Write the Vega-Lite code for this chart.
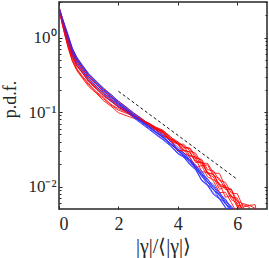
{
"$schema":"https://vega.github.io/schema/vega-lite/v6.json",
"width":208,"height":207,
"autosize":{"type":"none"},
"padding":{"left":59,"top":2,"right":2,"bottom":49},
"config":{"view":{"stroke":"#262626","strokeWidth":1.5},"font":"Liberation Serif"},
"datasets":{
"dashed":[{"x":2,"y":0.19},{"x":6,"y":0.0125}],
"curves":[
{"id":"r1","g":"r","x":0,"y":2.45},{"id":"r1","g":"r","x":0.1,"y":1.57},{"id":"r1","g":"r","x":0.2,"y":1.07},{"id":"r1","g":"r","x":0.3,"y":0.74},{"id":"r1","g":"r","x":0.45,"y":0.48},{"id":"r1","g":"r","x":0.6,"y":0.36},{"id":"r1","g":"r","x":0.8,"y":0.28},{"id":"r1","g":"r","x":1,"y":0.22},{"id":"r1","g":"r","x":1.25,"y":0.18},{"id":"r1","g":"r","x":1.5,"y":0.142},{"id":"r1","g":"r","x":1.75,"y":0.12},{"id":"r1","g":"r","x":2,"y":0.098},{"id":"r1","g":"r","x":2.25,"y":0.09},{"id":"r1","g":"r","x":2.5,"y":0.083},{"id":"r1","g":"r","x":2.75,"y":0.076},{"id":"r1","g":"r","x":3,"y":0.068},{"id":"r1","g":"r","x":3.25,"y":0.06},{"id":"r1","g":"r","x":3.5,"y":0.054},{"id":"r1","g":"r","x":3.75,"y":0.044},{"id":"r1","g":"r","x":4,"y":0.038},{"id":"r1","g":"r","x":4.2,"y":0.031},{"id":"r1","g":"r","x":4.4,"y":0.029},{"id":"r1","g":"r","x":4.6,"y":0.021},{"id":"r1","g":"r","x":4.8,"y":0.021},{"id":"r1","g":"r","x":5,"y":0.0149},{"id":"r1","g":"r","x":5.2,"y":0.0134},{"id":"r1","g":"r","x":5.4,"y":0.0092},{"id":"r1","g":"r","x":5.6,"y":0.0099},{"id":"r1","g":"r","x":5.8,"y":0.0067},{"id":"r1","g":"r","x":6,"y":0.006},{"id":"r1","g":"r","x":6.2,"y":0.0037},
{"id":"b1","g":"b","x":0,"y":2.5},{"id":"b1","g":"b","x":0.1,"y":1.81},{"id":"b1","g":"b","x":0.2,"y":1.34},{"id":"b1","g":"b","x":0.3,"y":1.0},{"id":"b1","g":"b","x":0.45,"y":0.65},{"id":"b1","g":"b","x":0.6,"y":0.49},{"id":"b1","g":"b","x":0.8,"y":0.378},{"id":"b1","g":"b","x":1,"y":0.297},{"id":"b1","g":"b","x":1.25,"y":0.234},{"id":"b1","g":"b","x":1.5,"y":0.192},{"id":"b1","g":"b","x":1.75,"y":0.157},{"id":"b1","g":"b","x":2,"y":0.129},{"id":"b1","g":"b","x":2.25,"y":0.109},{"id":"b1","g":"b","x":2.5,"y":0.091},{"id":"b1","g":"b","x":2.75,"y":0.076},{"id":"b1","g":"b","x":3,"y":0.0637},{"id":"b1","g":"b","x":3.25,"y":0.0534},{"id":"b1","g":"b","x":3.5,"y":0.0451},{"id":"b1","g":"b","x":3.75,"y":0.037},{"id":"b1","g":"b","x":4,"y":0.0307},{"id":"b1","g":"b","x":4.2,"y":0.0252},{"id":"b1","g":"b","x":4.4,"y":0.0221},{"id":"b1","g":"b","x":4.6,"y":0.0172},{"id":"b1","g":"b","x":4.8,"y":0.0141},{"id":"b1","g":"b","x":5,"y":0.0105},{"id":"b1","g":"b","x":5.2,"y":0.0092},{"id":"b1","g":"b","x":5.4,"y":0.0069},{"id":"b1","g":"b","x":5.6,"y":0.0061},{"id":"b1","g":"b","x":5.8,"y":0.0043},{"id":"b1","g":"b","x":6,"y":0.0038},{"id":"b1","g":"b","x":6.2,"y":0.0025},
{"id":"r2","g":"r","x":0,"y":2.5},{"id":"r2","g":"r","x":0.1,"y":1.62},{"id":"r2","g":"r","x":0.2,"y":1.11},{"id":"r2","g":"r","x":0.3,"y":0.8},{"id":"r2","g":"r","x":0.45,"y":0.52},{"id":"r2","g":"r","x":0.6,"y":0.38},{"id":"r2","g":"r","x":0.8,"y":0.3},{"id":"r2","g":"r","x":1,"y":0.24},{"id":"r2","g":"r","x":1.25,"y":0.188},{"id":"r2","g":"r","x":1.5,"y":0.157},{"id":"r2","g":"r","x":1.75,"y":0.127},{"id":"r2","g":"r","x":2,"y":0.111},{"id":"r2","g":"r","x":2.25,"y":0.1},{"id":"r2","g":"r","x":2.5,"y":0.087},{"id":"r2","g":"r","x":2.75,"y":0.079},{"id":"r2","g":"r","x":3,"y":0.072},{"id":"r2","g":"r","x":3.25,"y":0.063},{"id":"r2","g":"r","x":3.5,"y":0.057},{"id":"r2","g":"r","x":3.75,"y":0.046},{"id":"r2","g":"r","x":4,"y":0.04},{"id":"r2","g":"r","x":4.2,"y":0.034},{"id":"r2","g":"r","x":4.4,"y":0.033},{"id":"r2","g":"r","x":4.6,"y":0.026},{"id":"r2","g":"r","x":4.8,"y":0.019},{"id":"r2","g":"r","x":5,"y":0.0196},{"id":"r2","g":"r","x":5.2,"y":0.014},{"id":"r2","g":"r","x":5.4,"y":0.0129},{"id":"r2","g":"r","x":5.6,"y":0.0091},{"id":"r2","g":"r","x":5.8,"y":0.0092},{"id":"r2","g":"r","x":6,"y":0.0055},{"id":"r2","g":"r","x":6.2,"y":0.0057},{"id":"r2","g":"r","x":6.4,"y":0.0053},{"id":"r2","g":"r","x":6.6,"y":0.0024},
{"id":"b2","g":"b","x":0,"y":2.53},{"id":"b2","g":"b","x":0.1,"y":1.86},{"id":"b2","g":"b","x":0.2,"y":1.4},{"id":"b2","g":"b","x":0.3,"y":1.06},{"id":"b2","g":"b","x":0.45,"y":0.69},{"id":"b2","g":"b","x":0.6,"y":0.52},{"id":"b2","g":"b","x":0.8,"y":0.406},{"id":"b2","g":"b","x":1,"y":0.316},{"id":"b2","g":"b","x":1.25,"y":0.25},{"id":"b2","g":"b","x":1.5,"y":0.201},{"id":"b2","g":"b","x":1.75,"y":0.166},{"id":"b2","g":"b","x":2,"y":0.135},{"id":"b2","g":"b","x":2.25,"y":0.114},{"id":"b2","g":"b","x":2.5,"y":0.095},{"id":"b2","g":"b","x":2.75,"y":0.0806},{"id":"b2","g":"b","x":3,"y":0.0683},{"id":"b2","g":"b","x":3.25,"y":0.0572},{"id":"b2","g":"b","x":3.5,"y":0.0489},{"id":"b2","g":"b","x":3.75,"y":0.041},{"id":"b2","g":"b","x":4,"y":0.0314},{"id":"b2","g":"b","x":4.2,"y":0.0286},{"id":"b2","g":"b","x":4.4,"y":0.0226},{"id":"b2","g":"b","x":4.6,"y":0.0196},{"id":"b2","g":"b","x":4.8,"y":0.0146},{"id":"b2","g":"b","x":5,"y":0.0128},{"id":"b2","g":"b","x":5.2,"y":0.0095},{"id":"b2","g":"b","x":5.4,"y":0.0085},{"id":"b2","g":"b","x":5.6,"y":0.0062},{"id":"b2","g":"b","x":5.8,"y":0.0055},{"id":"b2","g":"b","x":6,"y":0.004},{"id":"b2","g":"b","x":6.2,"y":0.0029},
{"id":"r3","g":"r","x":0,"y":2.6},{"id":"r3","g":"r","x":0.1,"y":1.88},{"id":"r3","g":"r","x":0.2,"y":1.41},{"id":"r3","g":"r","x":0.3,"y":1.08},{"id":"r3","g":"r","x":0.45,"y":0.71},{"id":"r3","g":"r","x":0.6,"y":0.54},{"id":"r3","g":"r","x":0.8,"y":0.41},{"id":"r3","g":"r","x":1,"y":0.32},{"id":"r3","g":"r","x":1.25,"y":0.258},{"id":"r3","g":"r","x":1.5,"y":0.205},{"id":"r3","g":"r","x":1.75,"y":0.172},{"id":"r3","g":"r","x":2,"y":0.14},{"id":"r3","g":"r","x":2.25,"y":0.118},{"id":"r3","g":"r","x":2.5,"y":0.098},{"id":"r3","g":"r","x":2.75,"y":0.084},{"id":"r3","g":"r","x":3,"y":0.07},{"id":"r3","g":"r","x":3.25,"y":0.061},{"id":"r3","g":"r","x":3.5,"y":0.053},{"id":"r3","g":"r","x":3.75,"y":0.041},{"id":"r3","g":"r","x":4,"y":0.037},{"id":"r3","g":"r","x":4.2,"y":0.028},{"id":"r3","g":"r","x":4.4,"y":0.026},{"id":"r3","g":"r","x":4.6,"y":0.024},{"id":"r3","g":"r","x":4.8,"y":0.0158},{"id":"r3","g":"r","x":5,"y":0.0155},{"id":"r3","g":"r","x":5.2,"y":0.0118},{"id":"r3","g":"r","x":5.4,"y":0.0083},{"id":"r3","g":"r","x":5.6,"y":0.0084},{"id":"r3","g":"r","x":5.8,"y":0.0061},{"id":"r3","g":"r","x":6,"y":0.0043},
{"id":"b3","g":"b","x":0,"y":2.5},{"id":"b3","g":"b","x":0.1,"y":1.74},{"id":"b3","g":"b","x":0.2,"y":1.27},{"id":"b3","g":"b","x":0.3,"y":0.93},{"id":"b3","g":"b","x":0.45,"y":0.61},{"id":"b3","g":"b","x":0.6,"y":0.45},{"id":"b3","g":"b","x":0.8,"y":0.354},{"id":"b3","g":"b","x":1,"y":0.275},{"id":"b3","g":"b","x":1.25,"y":0.219},{"id":"b3","g":"b","x":1.5,"y":0.176},{"id":"b3","g":"b","x":1.75,"y":0.145},{"id":"b3","g":"b","x":2,"y":0.118},{"id":"b3","g":"b","x":2.25,"y":0.102},{"id":"b3","g":"b","x":2.5,"y":0.0846},{"id":"b3","g":"b","x":2.75,"y":0.0707},{"id":"b3","g":"b","x":3,"y":0.0598},{"id":"b3","g":"b","x":3.25,"y":0.05},{"id":"b3","g":"b","x":3.5,"y":0.0423},{"id":"b3","g":"b","x":3.75,"y":0.0351},{"id":"b3","g":"b","x":4,"y":0.0275},{"id":"b3","g":"b","x":4.2,"y":0.0246},{"id":"b3","g":"b","x":4.4,"y":0.0197},{"id":"b3","g":"b","x":4.6,"y":0.0168},{"id":"b3","g":"b","x":4.8,"y":0.012},{"id":"b3","g":"b","x":5,"y":0.0103},{"id":"b3","g":"b","x":5.2,"y":0.0078},{"id":"b3","g":"b","x":5.4,"y":0.0068},{"id":"b3","g":"b","x":5.6,"y":0.0052},{"id":"b3","g":"b","x":5.8,"y":0.0043},{"id":"b3","g":"b","x":6,"y":0.003},
{"id":"r4","g":"r","x":0,"y":2.48},{"id":"r4","g":"r","x":0.1,"y":1.67},{"id":"r4","g":"r","x":0.2,"y":1.18},{"id":"r4","g":"r","x":0.3,"y":0.86},{"id":"r4","g":"r","x":0.45,"y":0.55},{"id":"r4","g":"r","x":0.6,"y":0.41},{"id":"r4","g":"r","x":0.8,"y":0.33},{"id":"r4","g":"r","x":1,"y":0.253},{"id":"r4","g":"r","x":1.25,"y":0.204},{"id":"r4","g":"r","x":1.5,"y":0.164},{"id":"r4","g":"r","x":1.75,"y":0.139},{"id":"r4","g":"r","x":2,"y":0.117},{"id":"r4","g":"r","x":2.25,"y":0.103},{"id":"r4","g":"r","x":2.5,"y":0.087},{"id":"r4","g":"r","x":2.75,"y":0.079},{"id":"r4","g":"r","x":3,"y":0.071},{"id":"r4","g":"r","x":3.25,"y":0.062},{"id":"r4","g":"r","x":3.5,"y":0.056},{"id":"r4","g":"r","x":3.75,"y":0.047},{"id":"r4","g":"r","x":4,"y":0.037},{"id":"r4","g":"r","x":4.2,"y":0.037},{"id":"r4","g":"r","x":4.4,"y":0.03},{"id":"r4","g":"r","x":4.6,"y":0.028},{"id":"r4","g":"r","x":4.8,"y":0.0206},{"id":"r4","g":"r","x":5,"y":0.0205},{"id":"r4","g":"r","x":5.2,"y":0.0152},{"id":"r4","g":"r","x":5.4,"y":0.015},{"id":"r4","g":"r","x":5.6,"y":0.0099},{"id":"r4","g":"r","x":5.8,"y":0.0092},{"id":"r4","g":"r","x":6,"y":0.0063},{"id":"r4","g":"r","x":6.2,"y":0.0059},{"id":"r4","g":"r","x":6.4,"y":0.0056},{"id":"r4","g":"r","x":6.6,"y":0.0057},{"id":"r4","g":"r","x":6.7,"y":0.0035},
{"id":"b4","g":"b","x":0,"y":2.55},{"id":"b4","g":"b","x":0.1,"y":1.91},{"id":"b4","g":"b","x":0.2,"y":1.45},{"id":"b4","g":"b","x":0.3,"y":1.11},{"id":"b4","g":"b","x":0.45,"y":0.72},{"id":"b4","g":"b","x":0.6,"y":0.545},{"id":"b4","g":"b","x":0.8,"y":0.42},{"id":"b4","g":"b","x":1,"y":0.33},{"id":"b4","g":"b","x":1.25,"y":0.261},{"id":"b4","g":"b","x":1.5,"y":0.21},{"id":"b4","g":"b","x":1.75,"y":0.172},{"id":"b4","g":"b","x":2,"y":0.14},{"id":"b4","g":"b","x":2.25,"y":0.1176},{"id":"b4","g":"b","x":2.5,"y":0.0979},{"id":"b4","g":"b","x":2.75,"y":0.0828},{"id":"b4","g":"b","x":3,"y":0.0702},{"id":"b4","g":"b","x":3.25,"y":0.0589},{"id":"b4","g":"b","x":3.5,"y":0.0503},{"id":"b4","g":"b","x":3.75,"y":0.041},{"id":"b4","g":"b","x":4,"y":0.0339},{"id":"b4","g":"b","x":4.2,"y":0.0277},{"id":"b4","g":"b","x":4.4,"y":0.0245},{"id":"b4","g":"b","x":4.6,"y":0.0188},{"id":"b4","g":"b","x":4.8,"y":0.0163},{"id":"b4","g":"b","x":5,"y":0.0122},{"id":"b4","g":"b","x":5.2,"y":0.0106},{"id":"b4","g":"b","x":5.4,"y":0.0081},{"id":"b4","g":"b","x":5.6,"y":0.0068},{"id":"b4","g":"b","x":5.8,"y":0.0052},{"id":"b4","g":"b","x":6,"y":0.0041},{"id":"b4","g":"b","x":6.2,"y":0.0031},
{"id":"r5","g":"r","x":0,"y":2.43},{"id":"r5","g":"r","x":0.1,"y":1.57},{"id":"r5","g":"r","x":0.2,"y":1.08},{"id":"r5","g":"r","x":0.3,"y":0.77},{"id":"r5","g":"r","x":0.45,"y":0.49},{"id":"r5","g":"r","x":0.6,"y":0.37},{"id":"r5","g":"r","x":0.8,"y":0.29},{"id":"r5","g":"r","x":1,"y":0.231},{"id":"r5","g":"r","x":1.25,"y":0.182},{"id":"r5","g":"r","x":1.5,"y":0.151},{"id":"r5","g":"r","x":1.75,"y":0.124},{"id":"r5","g":"r","x":2,"y":0.106},{"id":"r5","g":"r","x":2.25,"y":0.097},{"id":"r5","g":"r","x":2.5,"y":0.089},{"id":"r5","g":"r","x":2.75,"y":0.08},{"id":"r5","g":"r","x":3,"y":0.07},{"id":"r5","g":"r","x":3.25,"y":0.061},{"id":"r5","g":"r","x":3.5,"y":0.054},{"id":"r5","g":"r","x":3.75,"y":0.044},{"id":"r5","g":"r","x":4,"y":0.039},{"id":"r5","g":"r","x":4.2,"y":0.035},{"id":"r5","g":"r","x":4.4,"y":0.026},{"id":"r5","g":"r","x":4.6,"y":0.025},{"id":"r5","g":"r","x":4.8,"y":0.0224},{"id":"r5","g":"r","x":5,"y":0.0155},{"id":"r5","g":"r","x":5.2,"y":0.0146},{"id":"r5","g":"r","x":5.4,"y":0.0101},{"id":"r5","g":"r","x":5.6,"y":0.0099},{"id":"r5","g":"r","x":5.8,"y":0.0073},{"id":"r5","g":"r","x":6,"y":0.007},{"id":"r5","g":"r","x":6.2,"y":0.0045},{"id":"r5","g":"r","x":6.4,"y":0.0043},
{"id":"b5","g":"b","x":0,"y":2.48},{"id":"b5","g":"b","x":0.1,"y":1.69},{"id":"b5","g":"b","x":0.2,"y":1.21},{"id":"b5","g":"b","x":0.3,"y":0.88},{"id":"b5","g":"b","x":0.45,"y":0.57},{"id":"b5","g":"b","x":0.6,"y":0.423},{"id":"b5","g":"b","x":0.8,"y":0.333},{"id":"b5","g":"b","x":1,"y":0.261},{"id":"b5","g":"b","x":1.25,"y":0.21},{"id":"b5","g":"b","x":1.5,"y":0.169},{"id":"b5","g":"b","x":1.75,"y":0.139},{"id":"b5","g":"b","x":2,"y":0.116},{"id":"b5","g":"b","x":2.25,"y":0.103},{"id":"b5","g":"b","x":2.5,"y":0.0872},{"id":"b5","g":"b","x":2.75,"y":0.0745},{"id":"b5","g":"b","x":3,"y":0.0637},{"id":"b5","g":"b","x":3.25,"y":0.0539},{"id":"b5","g":"b","x":3.5,"y":0.0465},{"id":"b5","g":"b","x":3.75,"y":0.0374},{"id":"b5","g":"b","x":4,"y":0.0314},{"id":"b5","g":"b","x":4.2,"y":0.0258},{"id":"b5","g":"b","x":4.4,"y":0.0226},{"id":"b5","g":"b","x":4.6,"y":0.0176},{"id":"b5","g":"b","x":4.8,"y":0.0146},{"id":"b5","g":"b","x":5,"y":0.0115},{"id":"b5","g":"b","x":5.2,"y":0.009},{"id":"b5","g":"b","x":5.4,"y":0.0079},{"id":"b5","g":"b","x":5.6,"y":0.0059},{"id":"b5","g":"b","x":5.8,"y":0.005},{"id":"b5","g":"b","x":6,"y":0.0036},{"id":"b5","g":"b","x":6.2,"y":0.0029},
{"id":"r6","g":"r","x":0,"y":2.53},{"id":"r6","g":"r","x":0.1,"y":1.74},{"id":"r6","g":"r","x":0.2,"y":1.26},{"id":"r6","g":"r","x":0.3,"y":0.92},{"id":"r6","g":"r","x":0.45,"y":0.6},{"id":"r6","g":"r","x":0.6,"y":0.45},{"id":"r6","g":"r","x":0.8,"y":0.343},{"id":"r6","g":"r","x":1,"y":0.275},{"id":"r6","g":"r","x":1.25,"y":0.219},{"id":"r6","g":"r","x":1.5,"y":0.18},{"id":"r6","g":"r","x":1.75,"y":0.148},{"id":"r6","g":"r","x":2,"y":0.123},{"id":"r6","g":"r","x":2.25,"y":0.107},{"id":"r6","g":"r","x":2.5,"y":0.089},{"id":"r6","g":"r","x":2.75,"y":0.079},{"id":"r6","g":"r","x":3,"y":0.065},{"id":"r6","g":"r","x":3.25,"y":0.058},{"id":"r6","g":"r","x":3.5,"y":0.048},{"id":"r6","g":"r","x":3.75,"y":0.043},{"id":"r6","g":"r","x":4,"y":0.03},{"id":"r6","g":"r","x":4.2,"y":0.031},{"id":"r6","g":"r","x":4.4,"y":0.025},{"id":"r6","g":"r","x":4.6,"y":0.018},{"id":"r6","g":"r","x":4.8,"y":0.0191},{"id":"r6","g":"r","x":5,"y":0.0135},{"id":"r6","g":"r","x":5.2,"y":0.0123},{"id":"r6","g":"r","x":5.4,"y":0.011},{"id":"r6","g":"r","x":5.6,"y":0.0072},{"id":"r6","g":"r","x":5.8,"y":0.0076},{"id":"r6","g":"r","x":6,"y":0.0053},{"id":"r6","g":"r","x":6.2,"y":0.0053},{"id":"r6","g":"r","x":6.4,"y":0.0033},
{"id":"b6","g":"b","x":0,"y":2.5},{"id":"b6","g":"b","x":0.1,"y":1.83},{"id":"b6","g":"b","x":0.2,"y":1.36},{"id":"b6","g":"b","x":0.3,"y":1.02},{"id":"b6","g":"b","x":0.45,"y":0.66},{"id":"b6","g":"b","x":0.6,"y":0.5},{"id":"b6","g":"b","x":0.8,"y":0.385},{"id":"b6","g":"b","x":1,"y":0.3},{"id":"b6","g":"b","x":1.25,"y":0.239},{"id":"b6","g":"b","x":1.5,"y":0.192},{"id":"b6","g":"b","x":1.75,"y":0.157},{"id":"b6","g":"b","x":2,"y":0.127},{"id":"b6","g":"b","x":2.25,"y":0.107},{"id":"b6","g":"b","x":2.5,"y":0.0881},{"id":"b6","g":"b","x":2.75,"y":0.073},{"id":"b6","g":"b","x":3,"y":0.0611},{"id":"b6","g":"b","x":3.25,"y":0.0512},{"id":"b6","g":"b","x":3.5,"y":0.0432},{"id":"b6","g":"b","x":3.75,"y":0.0359},{"id":"b6","g":"b","x":4,"y":0.0282},{"id":"b6","g":"b","x":4.2,"y":0.0252},{"id":"b6","g":"b","x":4.4,"y":0.0202},{"id":"b6","g":"b","x":4.6,"y":0.0172},{"id":"b6","g":"b","x":4.8,"y":0.0123},{"id":"b6","g":"b","x":5,"y":0.0105},{"id":"b6","g":"b","x":5.2,"y":0.0081},{"id":"b6","g":"b","x":5.4,"y":0.007},{"id":"b6","g":"b","x":5.6,"y":0.0053},{"id":"b6","g":"b","x":5.8,"y":0.0044},{"id":"b6","g":"b","x":6,"y":0.0031},
{"id":"r7","g":"r","x":0,"y":2.48},{"id":"r7","g":"r","x":0.1,"y":1.69},{"id":"r7","g":"r","x":0.2,"y":1.21},{"id":"r7","g":"r","x":0.3,"y":0.88},{"id":"r7","g":"r","x":0.45,"y":0.57},{"id":"r7","g":"r","x":0.6,"y":0.423},{"id":"r7","g":"r","x":0.8,"y":0.333},{"id":"r7","g":"r","x":1,"y":0.261},{"id":"r7","g":"r","x":1.25,"y":0.21},{"id":"r7","g":"r","x":1.5,"y":0.169},{"id":"r7","g":"r","x":1.75,"y":0.142},{"id":"r7","g":"r","x":2,"y":0.119},{"id":"r7","g":"r","x":2.25,"y":0.104},{"id":"r7","g":"r","x":2.5,"y":0.09},{"id":"r7","g":"r","x":2.75,"y":0.078},{"id":"r7","g":"r","x":3,"y":0.0685},{"id":"r7","g":"r","x":3.25,"y":0.059},{"id":"r7","g":"r","x":3.5,"y":0.052},{"id":"r7","g":"r","x":3.75,"y":0.042},{"id":"r7","g":"r","x":4,"y":0.0374},{"id":"r7","g":"r","x":4.2,"y":0.0302},{"id":"r7","g":"r","x":4.4,"y":0.0293},{"id":"r7","g":"r","x":4.6,"y":0.022},{"id":"r7","g":"r","x":4.8,"y":0.0212},{"id":"r7","g":"r","x":5,"y":0.0151},{"id":"r7","g":"r","x":5.2,"y":0.0146},{"id":"r7","g":"r","x":5.4,"y":0.0106},{"id":"r7","g":"r","x":5.6,"y":0.0103},{"id":"r7","g":"r","x":5.8,"y":0.0073},{"id":"r7","g":"r","x":6,"y":0.0065},{"id":"r7","g":"r","x":6.2,"y":0.0047},{"id":"r7","g":"r","x":6.4,"y":0.0048},{"id":"r7","g":"r","x":6.5,"y":0.003},
{"id":"b7","g":"b","x":0,"y":2.5},{"id":"b7","g":"b","x":0.1,"y":1.77},{"id":"b7","g":"b","x":0.2,"y":1.29},{"id":"b7","g":"b","x":0.3,"y":0.96},{"id":"b7","g":"b","x":0.45,"y":0.62},{"id":"b7","g":"b","x":0.6,"y":0.468},{"id":"b7","g":"b","x":0.8,"y":0.36},{"id":"b7","g":"b","x":1,"y":0.283},{"id":"b7","g":"b","x":1.25,"y":0.223},{"id":"b7","g":"b","x":1.5,"y":0.183},{"id":"b7","g":"b","x":1.75,"y":0.151},{"id":"b7","g":"b","x":2,"y":0.124},{"id":"b7","g":"b","x":2.25,"y":0.108},{"id":"b7","g":"b","x":2.5,"y":0.0908},{"id":"b7","g":"b","x":2.75,"y":0.0768},{"id":"b7","g":"b","x":3,"y":0.0657},{"id":"b7","g":"b","x":3.25,"y":0.055},{"id":"b7","g":"b","x":3.5,"y":0.047},{"id":"b7","g":"b","x":3.75,"y":0.0382},{"id":"b7","g":"b","x":4,"y":0.032},{"id":"b7","g":"b","x":4.2,"y":0.0263},{"id":"b7","g":"b","x":4.4,"y":0.0233},{"id":"b7","g":"b","x":4.6,"y":0.018},{"id":"b7","g":"b","x":4.8,"y":0.0153},{"id":"b7","g":"b","x":5,"y":0.0115},{"id":"b7","g":"b","x":5.2,"y":0.0101},{"id":"b7","g":"b","x":5.4,"y":0.0075},{"id":"b7","g":"b","x":5.6,"y":0.0067},{"id":"b7","g":"b","x":5.8,"y":0.0049},{"id":"b7","g":"b","x":6,"y":0.0039},{"id":"b7","g":"b","x":6.2,"y":0.0029},
{"id":"r8","g":"r","x":0,"y":2.55},{"id":"r8","g":"r","x":0.1,"y":1.83},{"id":"r8","g":"r","x":0.2,"y":1.34},{"id":"r8","g":"r","x":0.3,"y":1.0},{"id":"r8","g":"r","x":0.45,"y":0.65},{"id":"r8","g":"r","x":0.6,"y":0.49},{"id":"r8","g":"r","x":0.8,"y":0.378},{"id":"r8","g":"r","x":1,"y":0.294},{"id":"r8","g":"r","x":1.25,"y":0.237},{"id":"r8","g":"r","x":1.5,"y":0.19},{"id":"r8","g":"r","x":1.75,"y":0.16},{"id":"r8","g":"r","x":2,"y":0.133},{"id":"r8","g":"r","x":2.25,"y":0.112},{"id":"r8","g":"r","x":2.5,"y":0.093},{"id":"r8","g":"r","x":2.75,"y":0.081},{"id":"r8","g":"r","x":3,"y":0.071},{"id":"r8","g":"r","x":3.25,"y":0.061},{"id":"r8","g":"r","x":3.5,"y":0.055},{"id":"r8","g":"r","x":3.75,"y":0.0435},{"id":"r8","g":"r","x":4,"y":0.0387},{"id":"r8","g":"r","x":4.2,"y":0.033},{"id":"r8","g":"r","x":4.4,"y":0.0324},{"id":"r8","g":"r","x":4.6,"y":0.024},{"id":"r8","g":"r","x":4.8,"y":0.0232},{"id":"r8","g":"r","x":5,"y":0.0169},{"id":"r8","g":"r","x":5.2,"y":0.0162},{"id":"r8","g":"r","x":5.4,"y":0.012},{"id":"r8","g":"r","x":5.6,"y":0.0114},{"id":"r8","g":"r","x":5.8,"y":0.0082},{"id":"r8","g":"r","x":6,"y":0.008},{"id":"r8","g":"r","x":6.2,"y":0.0053},{"id":"r8","g":"r","x":6.4,"y":0.0056},{"id":"r8","g":"r","x":6.6,"y":0.0051},{"id":"r8","g":"r","x":6.75,"y":0.003},
{"id":"b8","g":"b","x":0,"y":2.53},{"id":"b8","g":"b","x":0.1,"y":1.84},{"id":"b8","g":"b","x":0.2,"y":1.39},{"id":"b8","g":"b","x":0.3,"y":1.04},{"id":"b8","g":"b","x":0.45,"y":0.68},{"id":"b8","g":"b","x":0.6,"y":0.51},{"id":"b8","g":"b","x":0.8,"y":0.4},{"id":"b8","g":"b","x":1,"y":0.311},{"id":"b8","g":"b","x":1.25,"y":0.245},{"id":"b8","g":"b","x":1.5,"y":0.199},{"id":"b8","g":"b","x":1.75,"y":0.163},{"id":"b8","g":"b","x":2,"y":0.133},{"id":"b8","g":"b","x":2.25,"y":0.111},{"id":"b8","g":"b","x":2.5,"y":0.0926},{"id":"b8","g":"b","x":2.75,"y":0.0775},{"id":"b8","g":"b","x":3,"y":0.065},{"id":"b8","g":"b","x":3.25,"y":0.0545},{"id":"b8","g":"b","x":3.5,"y":0.0461},{"id":"b8","g":"b","x":3.75,"y":0.0382},{"id":"b8","g":"b","x":4,"y":0.0298},{"id":"b8","g":"b","x":4.2,"y":0.0269},{"id":"b8","g":"b","x":4.4,"y":0.0211},{"id":"b8","g":"b","x":4.6,"y":0.0184},{"id":"b8","g":"b","x":4.8,"y":0.0136},{"id":"b8","g":"b","x":5,"y":0.0116},{"id":"b8","g":"b","x":5.2,"y":0.009},{"id":"b8","g":"b","x":5.4,"y":0.0077},{"id":"b8","g":"b","x":5.6,"y":0.0058},{"id":"b8","g":"b","x":5.8,"y":0.0049},{"id":"b8","g":"b","x":6,"y":0.0034}
]},
"layer":[
{"data":{"name":"curves"},
 "mark":{"type":"line","strokeWidth":1,"opacity":0.85,"clip":true},
 "encoding":{
  "x":{"field":"x","type":"quantitative","scale":{"domain":[0,7],"nice":false,"zero":false},
       "axis":{"orient":"bottom","values":[0,2,4,6],"domain":false,"grid":false,"tickSize":-3,"tickColor":"#262626","labelPadding":9,
               "labelFont":"Liberation Serif","labelFontSize":18,"labelColor":"#262626",
               "title":"|γ|/⟨|γ|⟩","titleFont":"Liberation Serif","titleFontSize":20,"titleFontWeight":"normal","titleColor":"#262626","titlePadding":3}},
  "y":{"field":"y","type":"quantitative","scale":{"type":"log","domain":[0.005,3],"nice":false},
       "axis":{"orient":"left","values":[0.01,0.1,1],"domain":false,"grid":false,"tickSize":-3,"tickColor":"#262626","labelPadding":6,
               "labelFont":"Liberation Serif","labelFontSize":17,"labelColor":"#262626",
               "labelExpr":"datum.value >= 0.99 ? '10⁰' : (datum.value >= 0.099 ? '10⁻¹' : '10⁻²')",
               "title":"p.d.f.","titleFont":"Liberation Serif","titleFontSize":18,"titleFontWeight":"normal","titleColor":"#262626",
               "titleX":-44,"titleY":97,"titleAngle":-90,"titleBaseline":"alphabetic","titleAlign":"center"}},
  "color":{"field":"g","type":"nominal","scale":{"domain":["r","b"],"range":["#ff0000","#2a2aff"]},"legend":null},
  "detail":{"field":"id","type":"nominal"}
 }},
{"data":{"name":"dashed"},
 "mark":{"type":"line","color":"#111111","strokeWidth":1,"strokeDash":[3,2.5],"clip":true},
 "encoding":{
  "x":{"field":"x","type":"quantitative","axis":{"orient":"top","values":[0,2,4,6],"domain":false,"grid":false,"tickSize":-3,"tickColor":"#262626","labels":false,"title":null}},
  "y":{"field":"y","type":"quantitative","axis":{"orient":"right","values":[0.01,0.1,1],"domain":false,"grid":false,"tickSize":-3,"tickColor":"#262626","labels":false,"title":null}}
 }},
{"data":{"name":"dashed"},
 "mark":{"type":"line","opacity":0,"clip":true},
 "encoding":{
  "x":{"field":"x","type":"quantitative","axis":null},
  "y":{"field":"y","type":"quantitative","axis":{"orient":"left","values":[0.006,0.007,0.008,0.009,0.02,0.03,0.04,0.05,0.06,0.07,0.08,0.09,0.2,0.3,0.4,0.5,0.6,0.7,0.8,0.9,2,3],"domain":false,"grid":false,"tickSize":-2,"tickColor":"#262626","labels":false,"title":null}}
 }},
{"data":{"name":"dashed"},
 "mark":{"type":"line","opacity":0,"clip":true},
 "encoding":{
  "x":{"field":"x","type":"quantitative","axis":null},
  "y":{"field":"y","type":"quantitative","axis":{"orient":"right","values":[0.006,0.007,0.008,0.009,0.02,0.03,0.04,0.05,0.06,0.07,0.08,0.09,0.2,0.3,0.4,0.5,0.6,0.7,0.8,0.9,2,3],"domain":false,"grid":false,"tickSize":-2,"tickColor":"#262626","labels":false,"title":null}}
 }}
],
"resolve":{"axis":{"x":"independent","y":"independent"}}
}
